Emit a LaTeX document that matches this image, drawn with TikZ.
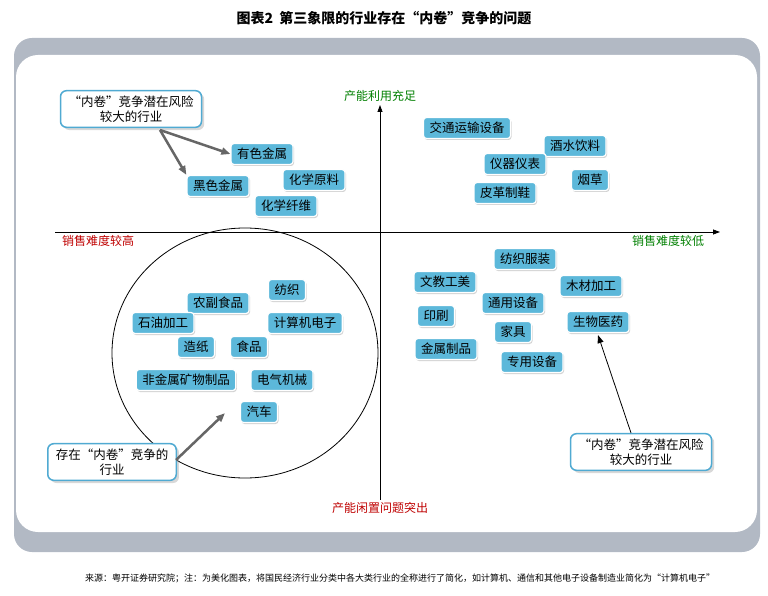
\documentclass[tikz,border=0pt]{standalone}
\usepackage{fontspec}
\setmainfont{Noto Sans CJK SC}
\usetikzlibrary{arrows.meta,shadows}
\definecolor{boxc}{RGB}{92,184,218}
\definecolor{callc}{RGB}{80,170,210}
\definecolor{framec}{RGB}{178,185,196}
\begin{document}
\begin{tikzpicture}[x=1pt,y=-1pt,
  ind/.style={draw=white,line width=1.2pt,fill=boxc,rounded corners=3pt,minimum height=21pt,inner xsep=6pt,font=\fontsize{12.5}{14}\selectfont,drop shadow={opacity=0.35,shadow xshift=1pt,shadow yshift=-1.5pt}},
  call/.style={draw=callc,line width=1.5pt,fill=white,rounded corners=6pt,align=center,inner xsep=8pt,inner ysep=5pt,font=\fontsize{12.5}{15}\selectfont,drop shadow={opacity=0.3}},
  ax/.style={font=\fontsize{12}{14}\selectfont},
  garr/.style={-{Triangle[length=9pt,width=7pt]},line width=2.5pt,draw=gray!80!black}]
\useasboundingbox (0,0) rectangle (768,596);
\node[font=\bfseries\fontsize{14}{16}\selectfont] (title) at (384,18) {图表2\ \ 第三象限的行业存在“内卷”竞争的问题};
\fill[framec] (14,38) [rounded corners=18pt] rectangle (760,552);
\fill[white] (16,55) [rounded corners=22pt] rectangle (757,532);
\node[font=\fontsize{9}{10}\selectfont] (src) at (400,578) {来源：粤开证券研究院；注：为美化图表，将国民经济行业分类中各大类行业的全称进行了简化，如计算机、通信和其他电子设备制造业简化为“计算机电子”};
\coordinate (xl) at (55,232); \coordinate (xr) at (720,232);
\coordinate (yb) at (380,500); \coordinate (yt) at (380,105);
\draw[-{Triangle[length=7pt,width=5pt]},line width=0.8pt] (xl) -- (xr);
\draw[-{Triangle[length=7pt,width=5pt]},line width=0.8pt] (yb) -- (yt);
\node[ax,text=green!50!black] (t1) at (380,96) {产能利用充足};
\node[ax,text=red!75!black] (t2) at (98,241) {销售难度较高};
\node[ax,text=green!50!black] (t3) at (668,241) {销售难度较低};
\node[ax,text=red!75!black] (t4) at (380,508) {产能闲置问题突出};
\draw[line width=0.8pt] (245,353) ellipse [x radius=133,y radius=125];
\node[ind] (a1) at (467,128) {交通运输设备};
\node[ind] (a2) at (575,146) {酒水饮料};
\node[ind] (a3) at (515,164) {仪器仪表};
\node[ind] (a4) at (590,180) {烟草};
\node[ind] (a5) at (505,193) {皮革制鞋};
\node[ind] (b1) at (262,154) {有色金属};
\node[ind] (b2) at (314,180) {化学原料};
\node[ind] (b3) at (218,186) {黑色金属};
\node[ind] (b4) at (286,206) {化学纤维};
\node[ind] (c1) at (525,259) {纺织服装};
\node[ind] (c2) at (445,282) {文教工美};
\node[ind] (c3) at (591,286) {木材加工};
\node[ind] (c4) at (513,303) {通用设备};
\node[ind] (c5) at (436,316) {印刷};
\node[ind] (c6) at (598,322) {生物医药};
\node[ind] (c7) at (513,332) {家具};
\node[ind] (c8) at (446,349) {金属制品};
\node[ind] (c9) at (532,362) {专用设备};
\node[ind] (d1) at (287,290) {纺织};
\node[ind] (d2) at (218,303) {农副食品};
\node[ind] (d3) at (163,323) {石油加工};
\node[ind] (d4) at (305,323) {计算机电子};
\node[ind] (d5) at (196,347) {造纸};
\node[ind] (d6) at (249,347) {食品};
\node[ind] (d7) at (186,380) {非金属矿物制品};
\node[ind] (d8) at (282,380) {电气机械};
\node[ind] (d9) at (259,412) {汽车};
\node[call] (k1) at (131,109) {“内卷”竞争潜在风险\\较大的行业};
\node[call] (k2) at (112,462) {存在“内卷”竞争的\\行业};
\node[call] (k3) at (641,452) {“内卷”竞争潜在风险\\较大的行业};
\coordinate (k1a) at (160,130);
\coordinate (k2a) at (176,460);
\draw[garr] (k1a) -- (b1.west);
\draw[garr] (k1a) -- (b3.north west);
\draw[garr] (k2a) -- ([xshift=-34pt,yshift=10pt]d9.south);
\draw[-{Triangle[length=8pt,width=6pt]},line width=0.8pt] ([xshift=-10pt]k3.north) -- ([yshift=-2pt]c6.south);
\end{tikzpicture}
\end{document}
